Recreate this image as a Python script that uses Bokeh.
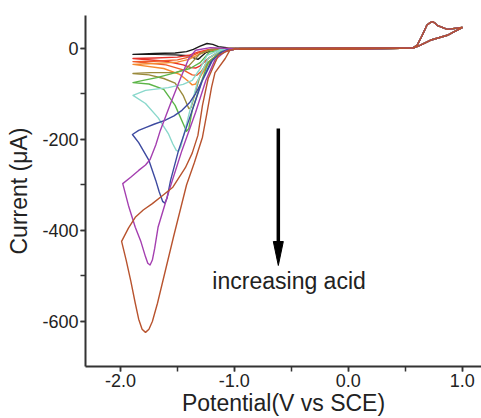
from bokeh.plotting import figure
from bokeh.models import FixedTicker, Range1d, Label, PrintfTickFormatter
from bokeh.embed import file_html
from bokeh.resources import INLINE

# ---------------- data (potential in V vs SCE, current in uA) ----------------
# each curve: forward branch from -1.0 V down to the vertex, then reverse branch back to -1.0 V
black_E = [-1.00, -1.17, -1.25, -1.30, -1.32, -1.35, -1.40, -1.52, -1.70, -1.89, -1.70, -1.52, -1.42, -1.36, -1.30, -1.24, -1.19, -1.14, -1.05]
black_I = [-1, -2, -9, -20, -24, -21, -16, -14, -13, -13, -11, -10, -7, -2, 5, 11, 9, 4, 1]

red_E = [-1.00, -1.12, -1.22, -1.30, -1.34, -1.38, -1.45, -1.60, -1.89, -1.70, -1.50, -1.40, -1.32, -1.22, -1.05]
red_I = [-2, -6, -20, -38, -43, -42, -36, -28, -22, -21, -19, -15, -8, -2, 0]

orangered_E = [-1.00, -1.12, -1.22, -1.29, -1.33, -1.37, -1.45, -1.60, -1.89, -1.70, -1.50, -1.40, -1.32, -1.22, -1.05]
orangered_I = [-2, -8, -28, -50, -59, -58, -47, -36, -29, -28, -25, -19, -10, -3, 0]

orange_E = [-1.00, -1.12, -1.22, -1.30, -1.34, -1.37, -1.41, -1.48, -1.62, -1.89, -1.70, -1.50, -1.40, -1.32, -1.22, -1.05]
orange_I = [-2, -8, -30, -62, -78, -80, -71, -57, -44, -35, -33, -30, -24, -14, -4, 0]

olive_E = [-1.00, -1.12, -1.23, -1.30, -1.35, -1.38, -1.40, -1.45, -1.52, -1.62, -1.75, -1.89,
           -1.74, -1.52, -1.43, -1.37, -1.30, -1.20, -1.05]
olive_I = [-2, -4, -22, -59, -103, -130, -132, -103, -76, -66, -58, -55,
           -53, -53, -46, -30, -11, -2, 0]

green_E = [-1.00, -1.12, -1.23, -1.30, -1.37, -1.40, -1.42, -1.45, -1.52, -1.62, -1.75, -1.89,
           -1.80, -1.68, -1.50, -1.39, -1.30, -1.22, -1.05]
green_I = [-2, -7, -31, -81, -136, -176, -182, -165, -125, -90, -78, -75,
           -70, -64, -52, -44, -31, -8, 0]

cyan_E = [-1.00, -1.12, -1.23, -1.32, -1.39, -1.45, -1.47, -1.49, -1.51, -1.54, -1.58, -1.67, -1.78, -1.89,
          -1.78, -1.58, -1.45, -1.37, -1.30, -1.24, -1.12, -1.05]
cyan_I = [-2, -4, -22, -70, -136, -196, -216, -226, -224, -210, -187, -152, -121, -103,
          -92, -86, -79, -70, -44, -15, -2, 0]

blue_E = [-1.00, -1.10, -1.19, -1.28, -1.37, -1.49, -1.56, -1.59, -1.61, -1.63, -1.66, -1.69, -1.75, -1.84, -1.895,
          -1.84, -1.78, -1.70, -1.61, -1.53, -1.46, -1.39, -1.34, -1.28, -1.21, -1.12, -1.05]
blue_I = [-2, -6, -25, -70, -136, -224, -290, -328, -340, -336, -315, -290, -246, -207, -189,
          -180, -174, -166, -158, -148, -136, -118, -99, -70, -31, -9, -1]

purple_E = [-1.00, -1.08, -1.17, -1.25, -1.34, -1.46, -1.57, -1.67, -1.70, -1.72, -1.74, -1.76, -1.78, -1.82, -1.87, -1.93, -1.98,
            -1.91, -1.84, -1.78, -1.74, -1.69, -1.65, -1.56, -1.47, -1.40, -1.34, -1.21, -1.05]
purple_I = [-2, -6, -25, -70, -140, -224, -310, -393, -440, -465, -476, -472, -458, -425, -393, -345, -297,
            -283, -268, -256, -244, -212, -180, -121, -64, -22, -4, 2, 0]

brown_E = [-0.99, -1.04, -1.08, -1.17, -1.20, -1.24, -1.28, -1.35, -1.42, -1.535, -1.675, -1.72, -1.75, -1.78,
           -1.81, -1.84, -1.87, -1.91, -1.95, -1.99,
           -1.93, -1.87, -1.80, -1.72, -1.63, -1.54, -1.43, -1.37, -1.32, -1.28, -1.23, -1.14, -1.05, -1.00]
brown_I = [0, -4, -22, -53, -85, -141, -195, -250, -300, -415, -560, -600, -617, -624,
           -617, -595, -560, -510, -465, -424,
           -395, -371, -355, -341, -323, -305, -262, -230, -191, -125, -66, -15, -4, -2]

# common part of every scan (-1.0 V to +1.0 V and back)
tail_E = [-0.95, 0.0, 0.50, 0.57, 0.605, 0.65, 0.69, 0.72, 0.74, 0.76, 0.78, 0.87, 1.0, 0.94, 0.87, 0.72, 0.63, 0.57, 0.0, -0.95]
tail_I = [0, 1, 1, 2, 7, 29, 51, 57, 59, 56, 51, 42, 46, 38, 29, 18, 7, 1, -2, -2]

curves = [
    (black_E, black_I, "#1a1a1a"),
    (red_E, red_I, "#e8322a"),
    (orangered_E, orangered_I, "#f05a28"),
    (orange_E, orange_I, "#f5892e"),
    (olive_E, olive_I, "#9a8a3c"),
    (green_E, green_I, "#5cb548"),
    (cyan_E, cyan_I, "#8ad8cc"),
    (blue_E, blue_I, "#3d4aa0"),
    (purple_E, purple_I, "#a43fb0"),
    (brown_E, brown_I, "#b8532e"),
]

x_ticks = [-2.0, -1.0, 0.0, 1.0]
x_minor = [-2.0, -1.5, -1.0, -0.5, 0.0, 0.5, 1.0]
y_ticks = [-600, -400, -200, 0]
y_minor = [-700, -600, -500, -400, -300, -200, -100, 0]

arrow_x = -0.614
arrow_y_from = -176
arrow_y_tip = -477
annotation_text = "increasing acid"
annotation_x = -1.193
annotation_y = -512

# ---------------- figure ----------------
FONT = "Liberation Sans"
p = figure(width=481, height=418,
           x_range=Range1d(-2.307, 1.17), y_range=Range1d(-699, 72.5),
           output_backend="svg", toolbar_location=None,
           min_border_left=85, min_border_right=0, min_border_top=15, min_border_bottom=52)
p.background_fill_color = "white"
p.border_fill_color = "white"
p.outline_line_color = None
p.xgrid.visible = False
p.ygrid.visible = False

for E, I, col in curves:
    xs = E + tail_E + [E[0]]
    ys = I + tail_I + [I[0]]
    p.line(xs, ys, line_color=col, line_width=1.4, line_join="round")

# arrow
head_half_w = 5.0 / 114.0
head_len = 24.0 / 0.455
p.segment(x0=[arrow_x], y0=[arrow_y_from], x1=[arrow_x], y1=[arrow_y_tip + head_len * 0.8],
          line_color="black", line_width=3.5)
p.patch([arrow_x - head_half_w, arrow_x + head_half_w, arrow_x],
        [arrow_y_tip + head_len, arrow_y_tip + head_len, arrow_y_tip],
        fill_color="black", line_color="black")

p.add_layout(Label(x=annotation_x, y=annotation_y, text=annotation_text,
                   text_baseline="middle", text_align="left",
                   text_font=FONT, text_font_size="23px", text_color="#222222"))

for ax in (p.xaxis[0], p.yaxis[0]):
    ax.axis_line_width = 2
    ax.axis_line_color = "#333333"
    ax.major_tick_line_color = "#333333"
    ax.minor_tick_line_color = "#333333"
    ax.major_tick_line_width = 1.5
    ax.minor_tick_line_width = 1.5
    ax.major_tick_out = 5
    ax.major_tick_in = 0
    ax.minor_tick_out = 5
    ax.minor_tick_in = 0
    ax.major_label_text_font = FONT
    ax.major_label_text_font_size = "18px"
    ax.major_label_text_color = "#222222"
    ax.axis_label_text_font = FONT
    ax.axis_label_text_font_size = "23px"
    ax.axis_label_text_font_style = "normal"
    ax.axis_label_text_color = "#222222"

p.xaxis.ticker = FixedTicker(ticks=x_ticks, minor_ticks=x_minor)
p.yaxis.ticker = FixedTicker(ticks=y_ticks, minor_ticks=y_minor)
p.xaxis.formatter = PrintfTickFormatter(format="%.1f")
p.yaxis.formatter = PrintfTickFormatter(format="%d")
p.xaxis.axis_label = "Potential(V vs SCE)"
p.yaxis.axis_label = "Current (\u03bcA)"
p.xaxis.major_label_standoff = 2
p.xaxis.axis_label_standoff = 0
p.yaxis.major_label_standoff = 2
p.yaxis.axis_label_standoff = 7

open("out.html", "w").write(file_html(p, INLINE))
